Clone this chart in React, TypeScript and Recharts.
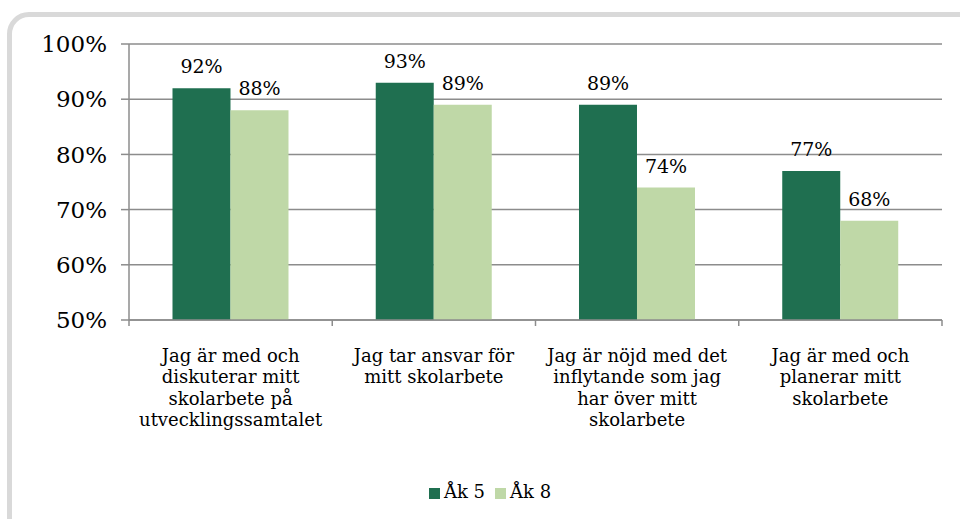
import { BarChart, Bar, XAxis, YAxis, CartesianGrid, LabelList, Legend } from "recharts";

const categories = [
  "Jag är med och\ndiskuterar mitt\nskolarbete på\nutvecklingssamtalet",
  "Jag tar ansvar för\nmitt skolarbete",
  "Jag är nöjd med det\ninflytande som jag\nhar över mitt\nskolarbete",
  "Jag är med och\nplanerar mitt\nskolarbete",
];
const ak5 = [92, 93, 89, 77];
const ak8 = [88, 89, 74, 68];
const yTicks = [50, 60, 70, 80, 90, 100];

const data = categories.map((c, i) => ({ name: c, ak5: ak5[i], ak8: ak8[i] }));

const FONT = "'DejaVu Serif', serif";
const AXIS = "#8c8c8c";

// category label plus tick marks on the band edges, like the original
const CatTick = (props: any) => {
  const { x, y, payload, index, width, visibleTicksCount } = props;
  const lines = String(payload.value).split("\n");
  const band = width / visibleTicksCount;
  const top = y - 8;
  return (
    <g>
      <line x1={x - band / 2} x2={x - band / 2} y1={top} y2={top + 6} stroke={AXIS} strokeWidth={1.5} />
      {index === visibleTicksCount - 1 && (
        <line x1={x + band / 2} x2={x + band / 2} y1={top} y2={top + 6} stroke={AXIS} strokeWidth={1.5} />
      )}
      <text x={x} y={y} textAnchor="middle" fontFamily={FONT} fontSize={18} fill="#000">
        {lines.map((l, i) => (
          <tspan key={i} x={x} dy={i === 0 ? 34 : 21.3}>
            {l}
          </tspan>
        ))}
      </text>
    </g>
  );
};

export default function App() {
  return (
    <div style={{ position: "absolute", left: 0, top: 0, width: 960, height: 519, overflow: "hidden", background: "#fff" }}>
      <div
        style={{
          position: "absolute",
          left: 7,
          top: 12,
          width: 980,
          height: 540,
          border: "5px solid #d9d9d9",
          borderRadius: 22,
          boxSizing: "border-box",
        }}
      />
      <div style={{ position: "absolute", left: 0, top: 0 }}>
        <BarChart
          width={960}
          height={519}
          data={data}
          margin={{ top: 44, right: 18, left: 0, bottom: 17 }}
          barCategoryGap="21.4%"
          barGap={0}
        >
          <CartesianGrid vertical={false} stroke={AXIS} strokeWidth={1.5} />
          <XAxis
            dataKey="name"
            tick={<CatTick />}
            tickLine={false}
            interval={0}
            height={161}
            stroke={AXIS}
            strokeWidth={1.5}
            tickSize={6}
          />
          <YAxis
            width={129}
            domain={[50, 100]}
            ticks={yTicks}
            allowDataOverflow
            tickFormatter={(v: number) => `${v}%`}
            tick={{ fontFamily: FONT, fontSize: 23, fill: "#000" }}
            stroke={AXIS}
            strokeWidth={1.5}
            tickSize={8}
            tickMargin={14}
          />
          <Legend
            verticalAlign="bottom"
            iconType="square"
            iconSize={11}
            wrapperStyle={{ fontFamily: FONT, fontSize: 18, color: "#000", left: 24 }}
            formatter={(v: string) => <span style={{ color: "#000" }}>{v}</span>}
          />
          <Bar dataKey="ak5" name="Åk 5" fill="#1f6f50" isAnimationActive={false}>
            <LabelList
              dataKey="ak5"
              position="top"
              offset={15}
              formatter={(v: any) => `${v}%`}
              style={{ fontFamily: FONT, fontSize: 19, fill: "#000" }}
            />
          </Bar>
          <Bar dataKey="ak8" name="Åk 8" fill="#bfd8a7" isAnimationActive={false}>
            <LabelList
              dataKey="ak8"
              position="top"
              offset={15}
              formatter={(v: any) => `${v}%`}
              style={{ fontFamily: FONT, fontSize: 19, fill: "#000" }}
            />
          </Bar>
        </BarChart>
      </div>
    </div>
  );
}
